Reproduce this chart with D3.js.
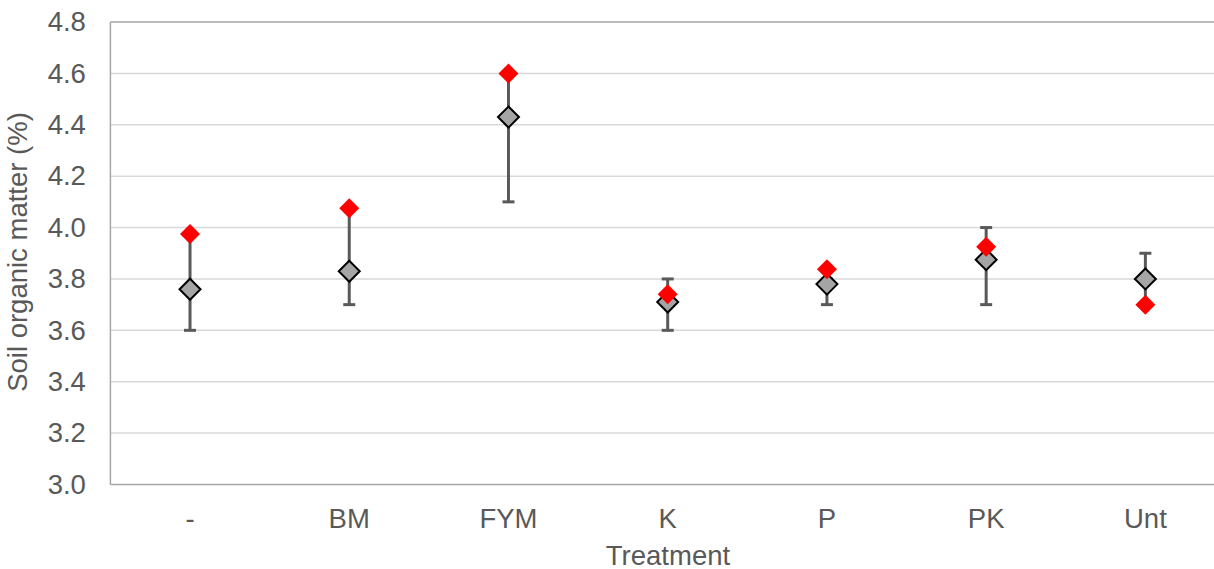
<!DOCTYPE html>
<html><head><meta charset="utf-8">
<script src="https://cdn.jsdelivr.net/npm/d3@7"></script>
<style>body{margin:0;background:#fff;overflow:hidden}svg{display:block}text{font-family:"Liberation Sans",Arial,sans-serif;fill:#595959}</style>
</head><body><svg id="c" width="1214" height="569"></svg>
<script>
const categories = ["-", "BM", "FYM", "K", "P", "PK", "Unt"];
const meanValues = [3.76, 3.83, 4.43, 3.71, 3.78, 3.875, 3.80];
const errLow = [3.6, 3.7, 4.1, 3.6, 3.7, 3.7, 3.7];
const errHigh = [3.97, 4.07, 4.6, 3.8, 3.8, 4.0, 3.9];
const redValues = [3.975, 4.075, 4.6, 3.74, 3.838, 3.925, 3.70];
const yTicks = [3.0, 3.2, 3.4, 3.6, 3.8, 4.0, 4.2, 4.4, 4.6, 4.8];

(function () {
const svg = d3.select("#c");
const mLeft = 110.4, mRight = 1225, mTop = 22, mBottom = 484.5;
const fs = "27.5px";
const x = d3.scaleBand().domain(categories).range([mLeft, mRight]);
const y = d3.scaleLinear().domain([3.0, 4.8]).range([mBottom, mTop]);
const cx = c => x(c) + x.bandwidth() / 2;

// gridlines
svg.append("g").selectAll("line").data(yTicks.filter(t => t > 3.0 && t < 4.8)).join("line")
  .attr("x1", mLeft).attr("x2", mRight).attr("y1", d => y(d)).attr("y2", d => y(d))
  .attr("stroke", "#d9d9d9").attr("stroke-width", 1.5);
// border lines
svg.append("line").attr("x1", mLeft).attr("x2", mRight).attr("y1", y(4.8)).attr("y2", y(4.8)).attr("stroke", "#a6a6a6").attr("stroke-width", 1.5);
svg.append("line").attr("x1", mLeft).attr("x2", mRight).attr("y1", y(3.0)).attr("y2", y(3.0)).attr("stroke", "#a6a6a6").attr("stroke-width", 1.5);
svg.append("line").attr("x1", mLeft).attr("x2", mLeft).attr("y1", mTop).attr("y2", mBottom).attr("stroke", "#a6a6a6").attr("stroke-width", 1.5);

// y tick labels
const yAxis = svg.append("g").attr("transform", `translate(${mLeft},0)`)
  .call(d3.axisLeft(y).tickValues(yTicks).tickFormat(d3.format(".1f")).tickSize(0).tickPadding(24.5));
yAxis.select(".domain").remove();
yAxis.selectAll("text").style("font-size", fs).attr("fill", "#595959").attr("font-family", "Liberation Sans, Arial, sans-serif");

// x tick labels
const xAxis = svg.append("g").attr("transform", `translate(0,${mBottom})`)
  .call(d3.axisBottom(x).tickSize(0).tickPadding(24));
xAxis.select(".domain").remove();
xAxis.selectAll("text").style("font-size", fs).attr("fill", "#595959").attr("font-family", "Liberation Sans, Arial, sans-serif");

// axis titles
svg.append("text").attr("x", 668).attr("y", 565).attr("text-anchor", "middle").style("font-size", fs).text("Treatment");
svg.append("text").attr("transform", "translate(27,252) rotate(-90)").attr("text-anchor", "middle").style("font-size", fs).text("Soil organic matter (%)");

const idx = d3.range(categories.length);
// error bars
const eb = svg.append("g").attr("stroke", "#595959").attr("stroke-width", 3);
eb.selectAll("line.v").data(idx).join("line").attr("class", "v")
  .attr("x1", i => cx(categories[i])).attr("x2", i => cx(categories[i]))
  .attr("y1", i => y(errLow[i])).attr("y2", i => y(errHigh[i]));
eb.selectAll("line.lo").data(idx).join("line").attr("class", "lo")
  .attr("x1", i => cx(categories[i]) - 6).attr("x2", i => cx(categories[i]) + 6)
  .attr("y1", i => y(errLow[i])).attr("y2", i => y(errLow[i]));
eb.selectAll("line.hi").data(idx).join("line").attr("class", "hi")
  .attr("x1", i => cx(categories[i]) - 6).attr("x2", i => cx(categories[i]) + 6)
  .attr("y1", i => y(errHigh[i])).attr("y2", i => y(errHigh[i]));

// gray diamonds
const gs = 10.5;
svg.append("g").selectAll("path").data(idx).join("path")
  .attr("d", i => { const px = cx(categories[i]), py = y(meanValues[i]); return `M${px},${py-gs}L${px+gs},${py}L${px},${py+gs}L${px-gs},${py}Z`; })
  .attr("fill", "#a5a5a5").attr("stroke", "#000").attr("stroke-width", 2);

// red diamonds
const rs = 10;
svg.append("g").selectAll("path").data(idx).join("path")
  .attr("d", i => { const px = cx(categories[i]), py = y(redValues[i]); return `M${px},${py-rs}L${px+rs},${py}L${px},${py+rs}L${px-rs},${py}Z`; })
  .attr("fill", "#ff0000");
})();
</script></body></html>
